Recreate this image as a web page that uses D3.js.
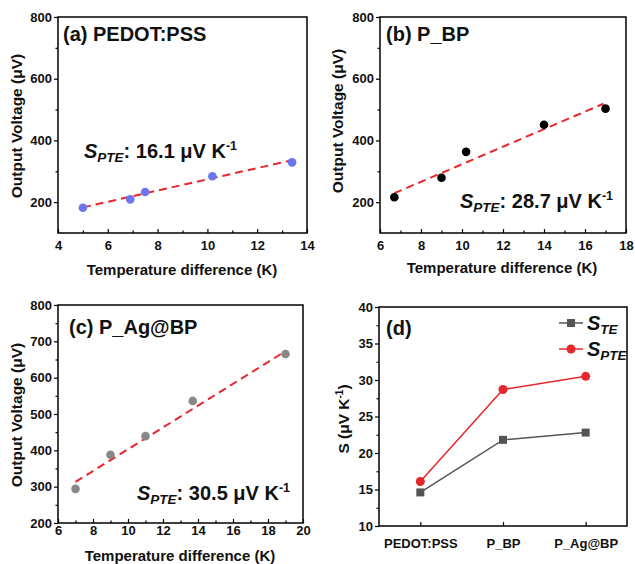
<!DOCTYPE html>
<html>
<head>
<meta charset="utf-8">
<script src="https://cdn.jsdelivr.net/npm/d3@7.9.0/dist/d3.min.js"></script>
<style>
  html, body { margin: 0; padding: 0; background: #fff; }
  svg { display: block; font-family: "Liberation Sans", Arial, sans-serif; font-weight: bold; }
</style>
</head>
<body>
<svg id="chart" width="635" height="564"></svg>
<script>
// ── data ─────────────────────────────────────────────────────────────
// (a) PEDOT:PSS
const aDT = [5, 6.9, 7.5, 10.2, 13.4];
const aV = [182, 209, 233, 284, 329];
const aFitX = [5, 13.3];
const aFitY = [183, 334];
// (b) P_BP
const bDT = [6.7, 9, 10.2, 14, 17];
const bV = [216, 279, 363, 451, 503];
const bFitX = [6.7, 16.9];
const bFitY = [229, 519];
// (c) P_Ag@BP
const cDT = [7, 9, 11, 13.7, 19];
const cV = [294, 388, 439, 536, 665];
const cFitX = [7, 18.9];
const cFitY = [313, 670];
// (d) summary
const samples = ['PEDOT:PSS', 'P_BP', 'P_Ag@BP'];
const sTE = [14.6, 21.8, 22.8];
const sPTE = [16.1, 28.7, 30.5];

const svg = d3.select('#chart');
const RED = '#e8262d';

// frame with axes; left ticks out, bottom ticks in
function frame(x, y, opt) {
  const g = svg.append('g');
  const [x0, x1] = x.range();
  const [y0, y1] = y.range();

  const left = d3.axisLeft(y).tickValues(opt.yTicks).tickSize(4).tickSizeOuter(0).tickPadding(2);
  g.append('g').attr('transform', `translate(${x0},0)`).call(left);
  g.append('g').attr('transform', `translate(${x0},0)`)
    .call(d3.axisLeft(y).tickValues(opt.yMinor).tickSize(2.5).tickSizeOuter(0).tickFormat(''));

  const bottom = d3.axisBottom(x).tickValues(opt.xTicks).tickSize(-4).tickSizeOuter(0).tickPadding(opt.xPad);
  g.append('g').attr('transform', `translate(0,${y0})`).call(bottom);
  if (opt.xMinor) {
    g.append('g').attr('transform', `translate(0,${y0})`)
      .call(d3.axisBottom(x).tickValues(opt.xMinor).tickSize(-2.5).tickSizeOuter(0).tickFormat(''));
  }

  g.selectAll('.domain').remove();
  g.selectAll('.tick line').attr('stroke', '#000').attr('stroke-width', 1.2);
  g.selectAll('.tick text').attr('font-size', 13).attr('font-weight', 'bold')
    .attr('font-family', '"Liberation Sans", Arial, sans-serif').attr('fill', '#111');

  g.append('rect')
    .attr('x', x0).attr('y', y1)
    .attr('width', x1 - x0).attr('height', y0 - y1)
    .attr('fill', 'none').attr('stroke', '#000').attr('stroke-width', 1.5);
  return g;
}

function label(g, text, x, y, size, rotate) {
  const t = g.append('text')
    .attr('font-size', size).attr('fill', '#111')
    .attr('text-anchor', 'middle').text(text);
  if (rotate) t.attr('transform', `translate(${x},${y}) rotate(-90)`);
  else t.attr('x', x).attr('y', y);
  return t;
}

// "S_PTE: 16.1 μV K-1"
function spte(g, x, y, value) {
  const t = g.append('text').attr('x', x).attr('y', y).attr('font-size', 20).attr('fill', '#111');
  t.append('tspan').attr('font-style', 'italic').text('S');
  t.append('tspan').attr('font-style', 'italic').attr('font-size', 13.5).attr('dy', 4).text('PTE');
  t.append('tspan').attr('dy', -4).text(`: ${value} μV K`);
  t.append('tspan').attr('font-size', 12.5).attr('dy', -8).text('-1');
}

function scatter(cfg) {
  const x = d3.scaleLinear().domain(cfg.xDomain).range(cfg.xRange);
  const y = d3.scaleLinear().domain(cfg.yDomain).range(cfg.yRange);
  const g = frame(x, y, cfg);

  g.append('line')
    .attr('x1', x(cfg.fitX[0])).attr('y1', y(cfg.fitY[0]))
    .attr('x2', x(cfg.fitX[1])).attr('y2', y(cfg.fitY[1]))
    .attr('stroke', RED).attr('stroke-width', 2).attr('stroke-dasharray', '8,5');

  g.selectAll('circle.pt').data(cfg.dt).join('circle')
    .attr('class', 'pt')
    .attr('cx', d => x(d)).attr('cy', (d, i) => y(cfg.v[i]))
    .attr('r', 4.3).attr('fill', cfg.color);

  g.append('text').attr('x', cfg.title[1]).attr('y', cfg.title[2])
    .attr('font-size', 20).attr('fill', '#111').text(cfg.title[0]);

  label(g, 'Output Voltage (μV)', cfg.yLab[0], cfg.yLab[1], 15.5, true);
  label(g, 'Temperature difference (K)', cfg.xLab[0], cfg.xLab[1], 15);
  spte(g, cfg.ann[0], cfg.ann[1], cfg.ann[2]);
}

const odd = (a, b) => d3.range(a, b + 0.1, 2);

scatter({
  xDomain: [4, 14], xRange: [58, 307], yDomain: [100, 800], yRange: [233, 17],
  xTicks: d3.range(4, 15, 2), xMinor: odd(5, 13), yTicks: [200, 400, 600, 800], yMinor: [300, 500, 700],
  xPad: 8, dt: aDT, v: aV, fitX: aFitX, fitY: aFitY, color: '#6a75ee',
  title: ['(a) PEDOT:PSS', 63, 41], yLab: [22, 126], xLab: [182, 275], ann: [84, 158, '16.1']
});

scatter({
  xDomain: [6, 18], xRange: [380, 626], yDomain: [100, 800], yRange: [233, 17],
  xTicks: d3.range(6, 19, 2), xMinor: odd(7, 17), yTicks: [200, 400, 600, 800], yMinor: [300, 500, 700],
  xPad: 8, dt: bDT, v: bV, fitX: bFitX, fitY: bFitY, color: '#000',
  title: ['(b) P_BP', 386, 41], yLab: [343, 121], xLab: [502, 273], ann: [460, 208, '28.7']
});

scatter({
  xDomain: [6, 20], xRange: [58, 303], yDomain: [200, 800], yRange: [523, 305],
  xTicks: d3.range(6, 21, 2), xMinor: odd(7, 19), yTicks: d3.range(200, 801, 100), yMinor: d3.range(250, 800, 100),
  xPad: 3, dt: cDT, v: cV, fitX: cFitX, fitY: cFitY, color: '#888',
  title: ['(c) P_Ag@BP', 69, 334], yLab: [22, 415], xLab: [180, 561], ann: [137, 500, '30.5']
});

// (d)
{
  const x = d3.scalePoint().domain(samples).range([379, 627]).padding(0.5);
  const y = d3.scaleLinear().domain([10, 40]).range([526, 307]);
  const g = frame(x, y, {
    yTicks: d3.range(10, 41, 5), yMinor: d3.range(12.5, 40, 5),
    xTicks: samples, xPad: 13
  });

  const line = d3.line().x((d, i) => x(samples[i])).y(d => y(d));
  g.append('path').datum(sTE).attr('d', line).attr('fill', 'none').attr('stroke', '#555').attr('stroke-width', 1.5);
  g.append('path').datum(sPTE).attr('d', line).attr('fill', 'none').attr('stroke', RED).attr('stroke-width', 1.5);

  g.selectAll('rect.te').data(sTE).join('rect').attr('class', 'te')
    .attr('x', (d, i) => x(samples[i]) - 4).attr('y', d => y(d) - 4)
    .attr('width', 8).attr('height', 8).attr('fill', '#555');
  g.selectAll('circle.pte').data(sPTE).join('circle').attr('class', 'pte')
    .attr('cx', (d, i) => x(samples[i])).attr('cy', d => y(d))
    .attr('r', 4.5).attr('fill', RED);

  g.append('text').attr('x', 386).attr('y', 335).attr('font-size', 20).attr('fill', '#111').text('(d)');

  const yl = g.append('text').attr('font-size', 15.5).attr('fill', '#111').attr('text-anchor', 'middle')
    .attr('transform', 'translate(349,419) rotate(-90)');
  yl.append('tspan').text('S (μV K');
  yl.append('tspan').attr('font-size', 10).attr('dy', -6).text('-1');
  yl.append('tspan').attr('dy', 6).text(')');

  // legend
  const leg = [['TE', '#555', 'rect'], ['PTE', RED, 'circle']];
  leg.forEach(([sub, col, shape], i) => {
    const ly = 323 + i * 26;
    g.append('line').attr('x1', 559).attr('x2', 583).attr('y1', ly).attr('y2', ly)
      .attr('stroke', col).attr('stroke-width', 1.5);
    if (shape === 'rect') {
      g.append('rect').attr('x', 567).attr('y', ly - 4).attr('width', 8).attr('height', 8).attr('fill', col);
    } else {
      g.append('circle').attr('cx', 571).attr('cy', ly).attr('r', 4.5).attr('fill', col);
    }
    const t = g.append('text').attr('x', 587).attr('y', ly + 7).attr('font-size', 20)
      .attr('font-style', 'italic').attr('fill', '#111');
    t.append('tspan').text('S');
    t.append('tspan').attr('font-size', 13.5).attr('dy', 4).text(sub);
  });
}
</script>
</body>
</html>
